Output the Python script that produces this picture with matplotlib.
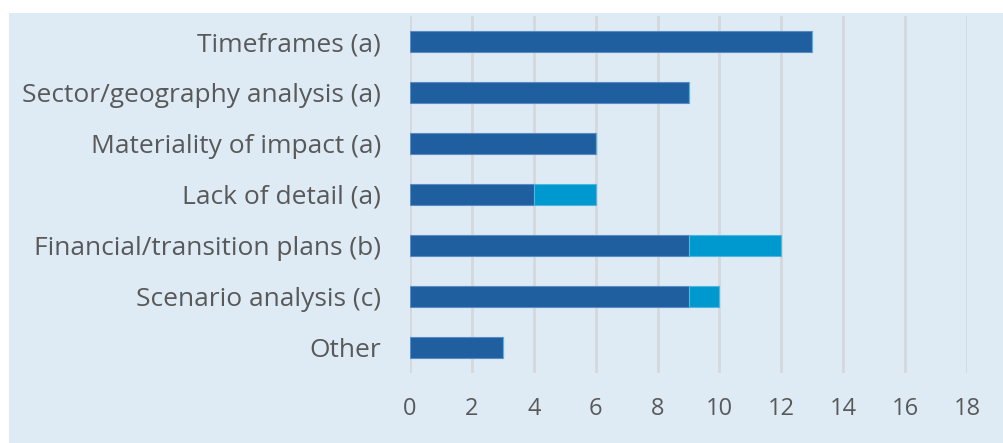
import matplotlib
matplotlib.use("Agg")
import matplotlib.pyplot as plt
from matplotlib.patches import Rectangle

categories = ["Timeframes (a)", "Sector/geography analysis (a)", "Materiality of impact (a)",
              "Lack of detail (a)", "Financial/transition plans (b)", "Scenario analysis (c)", "Other"]
series_a = [13, 9, 6, 4, 9, 9, 3]
series_b = [0, 0, 0, 2, 3, 1, 0]
xticks = [0, 2, 4, 6, 8, 10, 12, 14, 16, 18]

plt.rcParams['font.family'] = ['Open Sans', 'DejaVu Sans']

bg = "#DEEBF5"
fig = plt.figure(figsize=(10.04, 4.43), dpi=100)
fig.patch.set_facecolor("white")
fig.patches.append(Rectangle((9/1004, 0), 1 - 9/1004, 1 - 13/443, transform=fig.transFigure,
                             facecolor=bg, edgecolor="none", zorder=-10))

ax = fig.add_axes([410/1004, 1 - 373/443, (967 - 410)/1004, (373 - 16)/443])
ax.set_facecolor("none")

y = list(range(len(categories)))
ax.barh(y, series_a, height=0.4, color="#1F5FA0", edgecolor="#5A8BC4", linewidth=0.8, zorder=3)
ax.barh(y, series_b, left=series_a, height=0.4, color="#0099CF", edgecolor="#4FB6DE", linewidth=0.8, zorder=3)

ax.set_xlim(0, 18)
ax.set_ylim(6.5, -0.5)
ax.set_xticks(xticks)
ax.set_yticks(y)
ax.set_yticklabels(categories)
ax.grid(axis="x", color="#D4D8DC", linewidth=2, zorder=0)
ax.set_axisbelow(True)
for s in ax.spines.values():
    s.set_visible(False)
ax.tick_params(axis="both", length=0, colors="#595959")
ax.tick_params(axis="x", pad=17, labelsize=17)
ax.tick_params(axis="y", pad=21, labelsize=19)

fig.savefig("out.png", dpi=100, facecolor=fig.get_facecolor())
